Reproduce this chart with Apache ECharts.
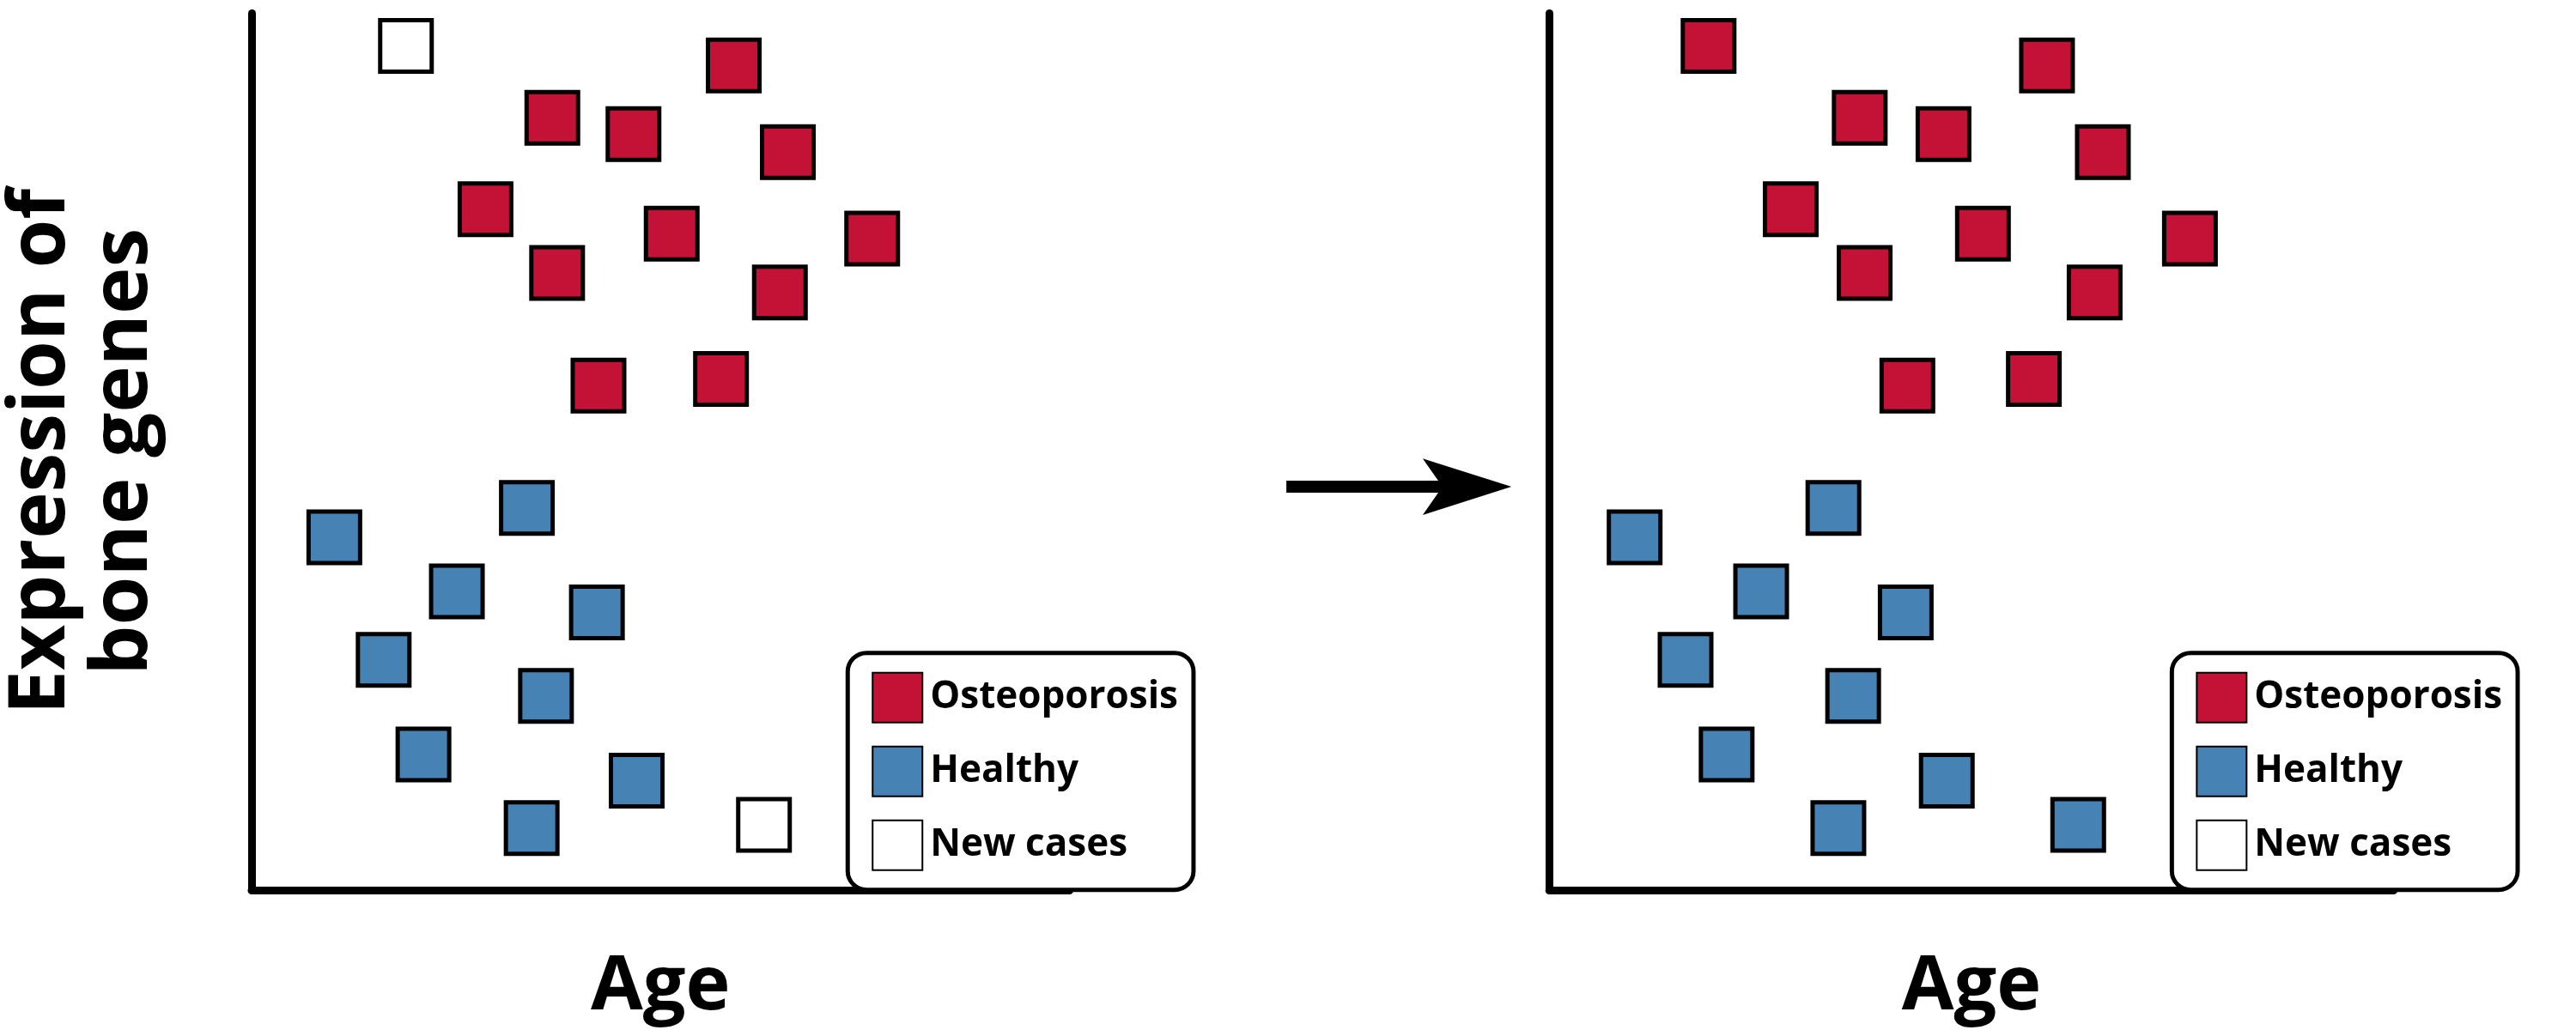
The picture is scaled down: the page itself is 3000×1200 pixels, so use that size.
<!DOCTYPE html>
<html>
<head>
<meta charset="utf-8">
<script src="https://cdn.jsdelivr.net/npm/echarts@6/dist/echarts.min.js"></script>
<style>html,body{margin:0;padding:0;background:#fff}#c{width:3000px;height:1200px}</style>
</head>
<body>
<div id="c"></div>
<script>
// points as [age, expression]
var osteoLeft = [[303,505],[189,473],[240,463],[337,452],[147,417],[264,402],[390,399],[192,378],[332,366],[218,309],[295,313]];
var healthyLeft = [[52,216],[173,234],[129,183],[217,170],[83,141],[185,119],[108,83],[242,67],[176,38]];
var newLeft = [[97,517],[322,40]];

var osteoRight = osteoLeft.concat([[97,517]]);
var healthyRight = healthyLeft.concat([[322,40]]);
var newRight = [];

var names = ['Osteoporosis', 'Healthy', 'New cases'];
var colors = ['#c41236', '#4682b4', '#ffffff'];

var sx = 3000 / 1568, sy = 1200 / 620;
var font = '"Open Sans", sans-serif';

function axisPair(idx, withY) {
    var line = {show: true, onZero: false, lineStyle: {color: '#000', width: 9}};
    return {
        x: {type: 'value', gridIndex: idx, min: 0, max: 514, axisLine: line,
            axisTick: {show: false}, axisLabel: {show: false}, splitLine: {show: false},
            name: 'Age', nameLocation: 'middle', nameGap: 70,
            nameTextStyle: {fontSize: 88, fontWeight: 'bold', color: '#000', fontFamily: font}},
        y: {type: 'value', gridIndex: idx, min: 0, max: 537, axisLine: line,
            axisTick: {show: false}, axisLabel: {show: false}, splitLine: {show: false},
            name: withY ? 'Expression of\nbone genes' : '', nameLocation: 'middle', nameGap: 100,
            nameTextStyle: {fontSize: 92, fontWeight: 'bold', color: '#000', fontFamily: font, lineHeight: 96}}
    };
}
var a0 = axisPair(0, true), a1 = axisPair(1, false);

function mk(name, data, idx) {
    var i = names.indexOf(name);
    return {
        name: name, type: 'scatter', xAxisIndex: idx, yAxisIndex: idx,
        symbol: 'rect', symbolSize: 60, data: data,
        itemStyle: {color: colors[i], borderColor: '#000', borderWidth: 5, opacity: 1}
    };
}

function legendAt(left, idx) {
    return {
        orient: 'vertical', left: left, top: 393 * sy, icon: 'rect',
        data: names, itemWidth: 58, itemHeight: 58, itemGap: 26,
        padding: [22, 18, 22, 28], borderColor: '#000', borderWidth: 5, borderRadius: 22,
        backgroundColor: '#fff', selectedMode: false,
        textStyle: {fontSize: 44, fontWeight: 'bold', color: '#000', fontFamily: font, padding: [0, 0, 0, 4]}
    };
}

var myChart = echarts.init(document.getElementById('c'));
myChart.setOption({
    backgroundColor: '#fff',
    animation: false,
    grid: [
        {left: 137 * sx, top: 8 * sy, width: 514 * sx, height: 537 * sy},
        {left: 943 * sx, top: 8 * sy, width: 514 * sx, height: 537 * sy}
    ],
    xAxis: [a0.x, a1.x],
    yAxis: [a0.y, a1.y],
    legend: [legendAt(516 * sx, 0), legendAt(1322 * sx, 1)],
    series: [
        mk('Osteoporosis', osteoLeft, 0), mk('Healthy', healthyLeft, 0), mk('New cases', newLeft, 0),
        mk('Osteoporosis', osteoRight, 1), mk('Healthy', healthyRight, 1), mk('New cases', newRight, 1)
    ],
    graphic: [
        {type: 'line', shape: {x1: 783 * sx, y1: 293 * sy, x2: 890 * sx, y2: 293 * sy},
         style: {stroke: '#000', lineWidth: 14}},
        {type: 'polygon', shape: {points: [[866 * sx, 276 * sy], [920 * sx, 293 * sy], [866 * sx, 310 * sy], [878 * sx, 293 * sy]]},
         style: {fill: '#000'}}
    ]
});
</script>
</body>
</html>
